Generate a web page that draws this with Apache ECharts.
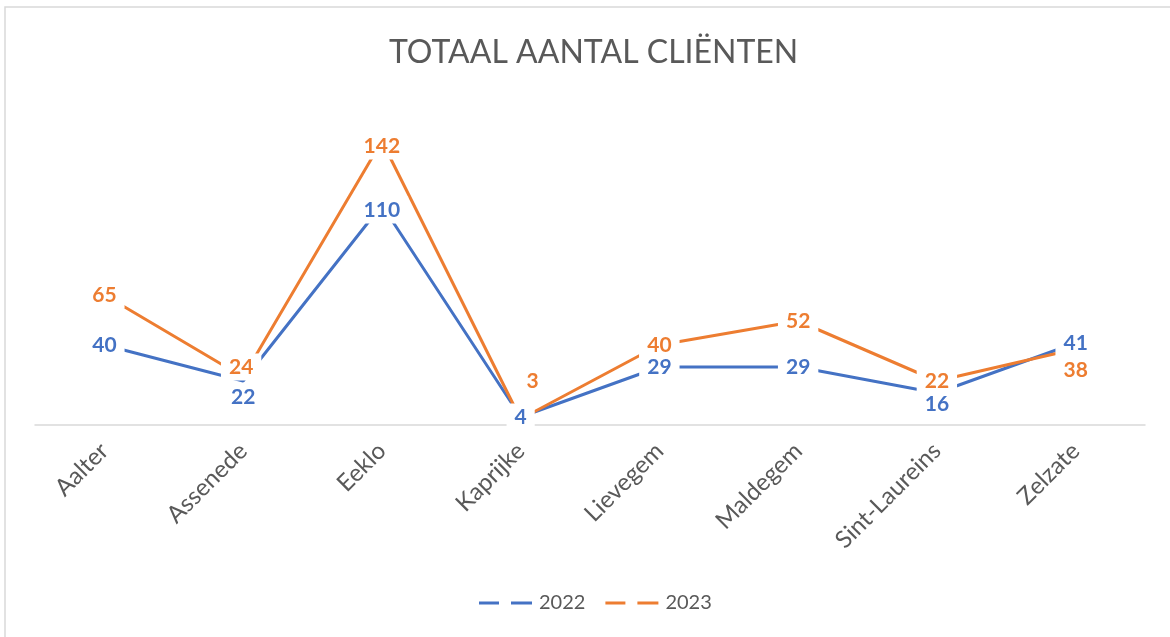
<!DOCTYPE html>
<html>
<head>
<meta charset="utf-8">
<script src="https://cdn.jsdelivr.net/npm/echarts@6/dist/echarts.min.js"></script>
<style>
html,body{margin:0;padding:0;background:#fff;}
#chart{width:1170px;height:637px;}
</style>
</head>
<body>
<div id="chart"></div>
<script>
const categories = ['Aalter','Assenede','Eeklo','Kaprijke','Lievegem','Maldegem','Sint-Laureins','Zelzate'];
const values2022 = [40, 22, 110, 4, 29, 29, 16, 41];
const values2023 = [65, 24, 142, 3, 40, 52, 22, 38];
const seriesNames = ['2022', '2023'];

// label nudges (style only), by category index
const offsets2022 = {1:[0,16], 2:[0,5], 6:[0,11]};
const offsets2023 = {1:[-2,-10], 2:[0,5], 3:[12,-38], 7:[0,21]};

const FONT = 'Lato, "Open Sans", sans-serif';
const chart = echarts.init(document.getElementById('chart'));
function mkSeries(name, vals, offs, color){
  return {
    name, type:'line', data: vals,
    symbol:'circle', symbolSize:1, showSymbol:true, smooth:false,
    lineStyle:{color, width:3},
    itemStyle:{color},
    label:{show:true, position:'inside', color, fontFamily:FONT, fontWeight:'bold', fontSize:21,
      backgroundColor:'#fff', padding:[3,8]},
    labelLayout:function(p){
      const o = offs[p.dataIndex] || [0,0];
      return {dx:o[0], dy:o[1], hideOverlap:false};
    }
  };
}
chart.setOption({
  animation:false,
  backgroundColor:'#fff',
  graphic:[{type:'rect', shape:{x:5, y:7, width:1300, height:800}, style:{fill:'none', stroke:'#d9d9d9', lineWidth:1.5}, silent:true, z:-10}],
  title:{text:'TOTAAL AANTAL CLIËNTEN', left:384, top:32,
    textStyle:{fontFamily:FONT, fontWeight:'normal', fontSize:32, color:'#595959'}},
  legend:{bottom:19, left:474, itemGap:20, itemWidth:53, itemHeight:3,
    icon:'path://M0,0h20v3h-20z M32,0h21v3h-21z',
    textStyle:{fontFamily:FONT, fontSize:20, color:'#595959', padding:[0,0,0,2]},
    data:seriesNames},
  grid:{left:35, right:25, top:105, bottom:212},
  xAxis:{type:'category', data:categories, boundaryGap:true,
    axisLine:{lineStyle:{color:'#d9d9d9', width:1.5}},
    axisTick:{show:false},
    axisLabel:{rotate:45, margin:22, fontFamily:FONT, fontSize:24, color:'#595959', interval:0}},
  yAxis:{type:'value', min:0, max:160, show:false, splitLine:{show:false}},
  series:[
    mkSeries(seriesNames[0], values2022, offsets2022, '#4472C4'),
    mkSeries(seriesNames[1], values2023, offsets2023, '#ED7D31')
  ]
});
</script>
</body>
</html>
